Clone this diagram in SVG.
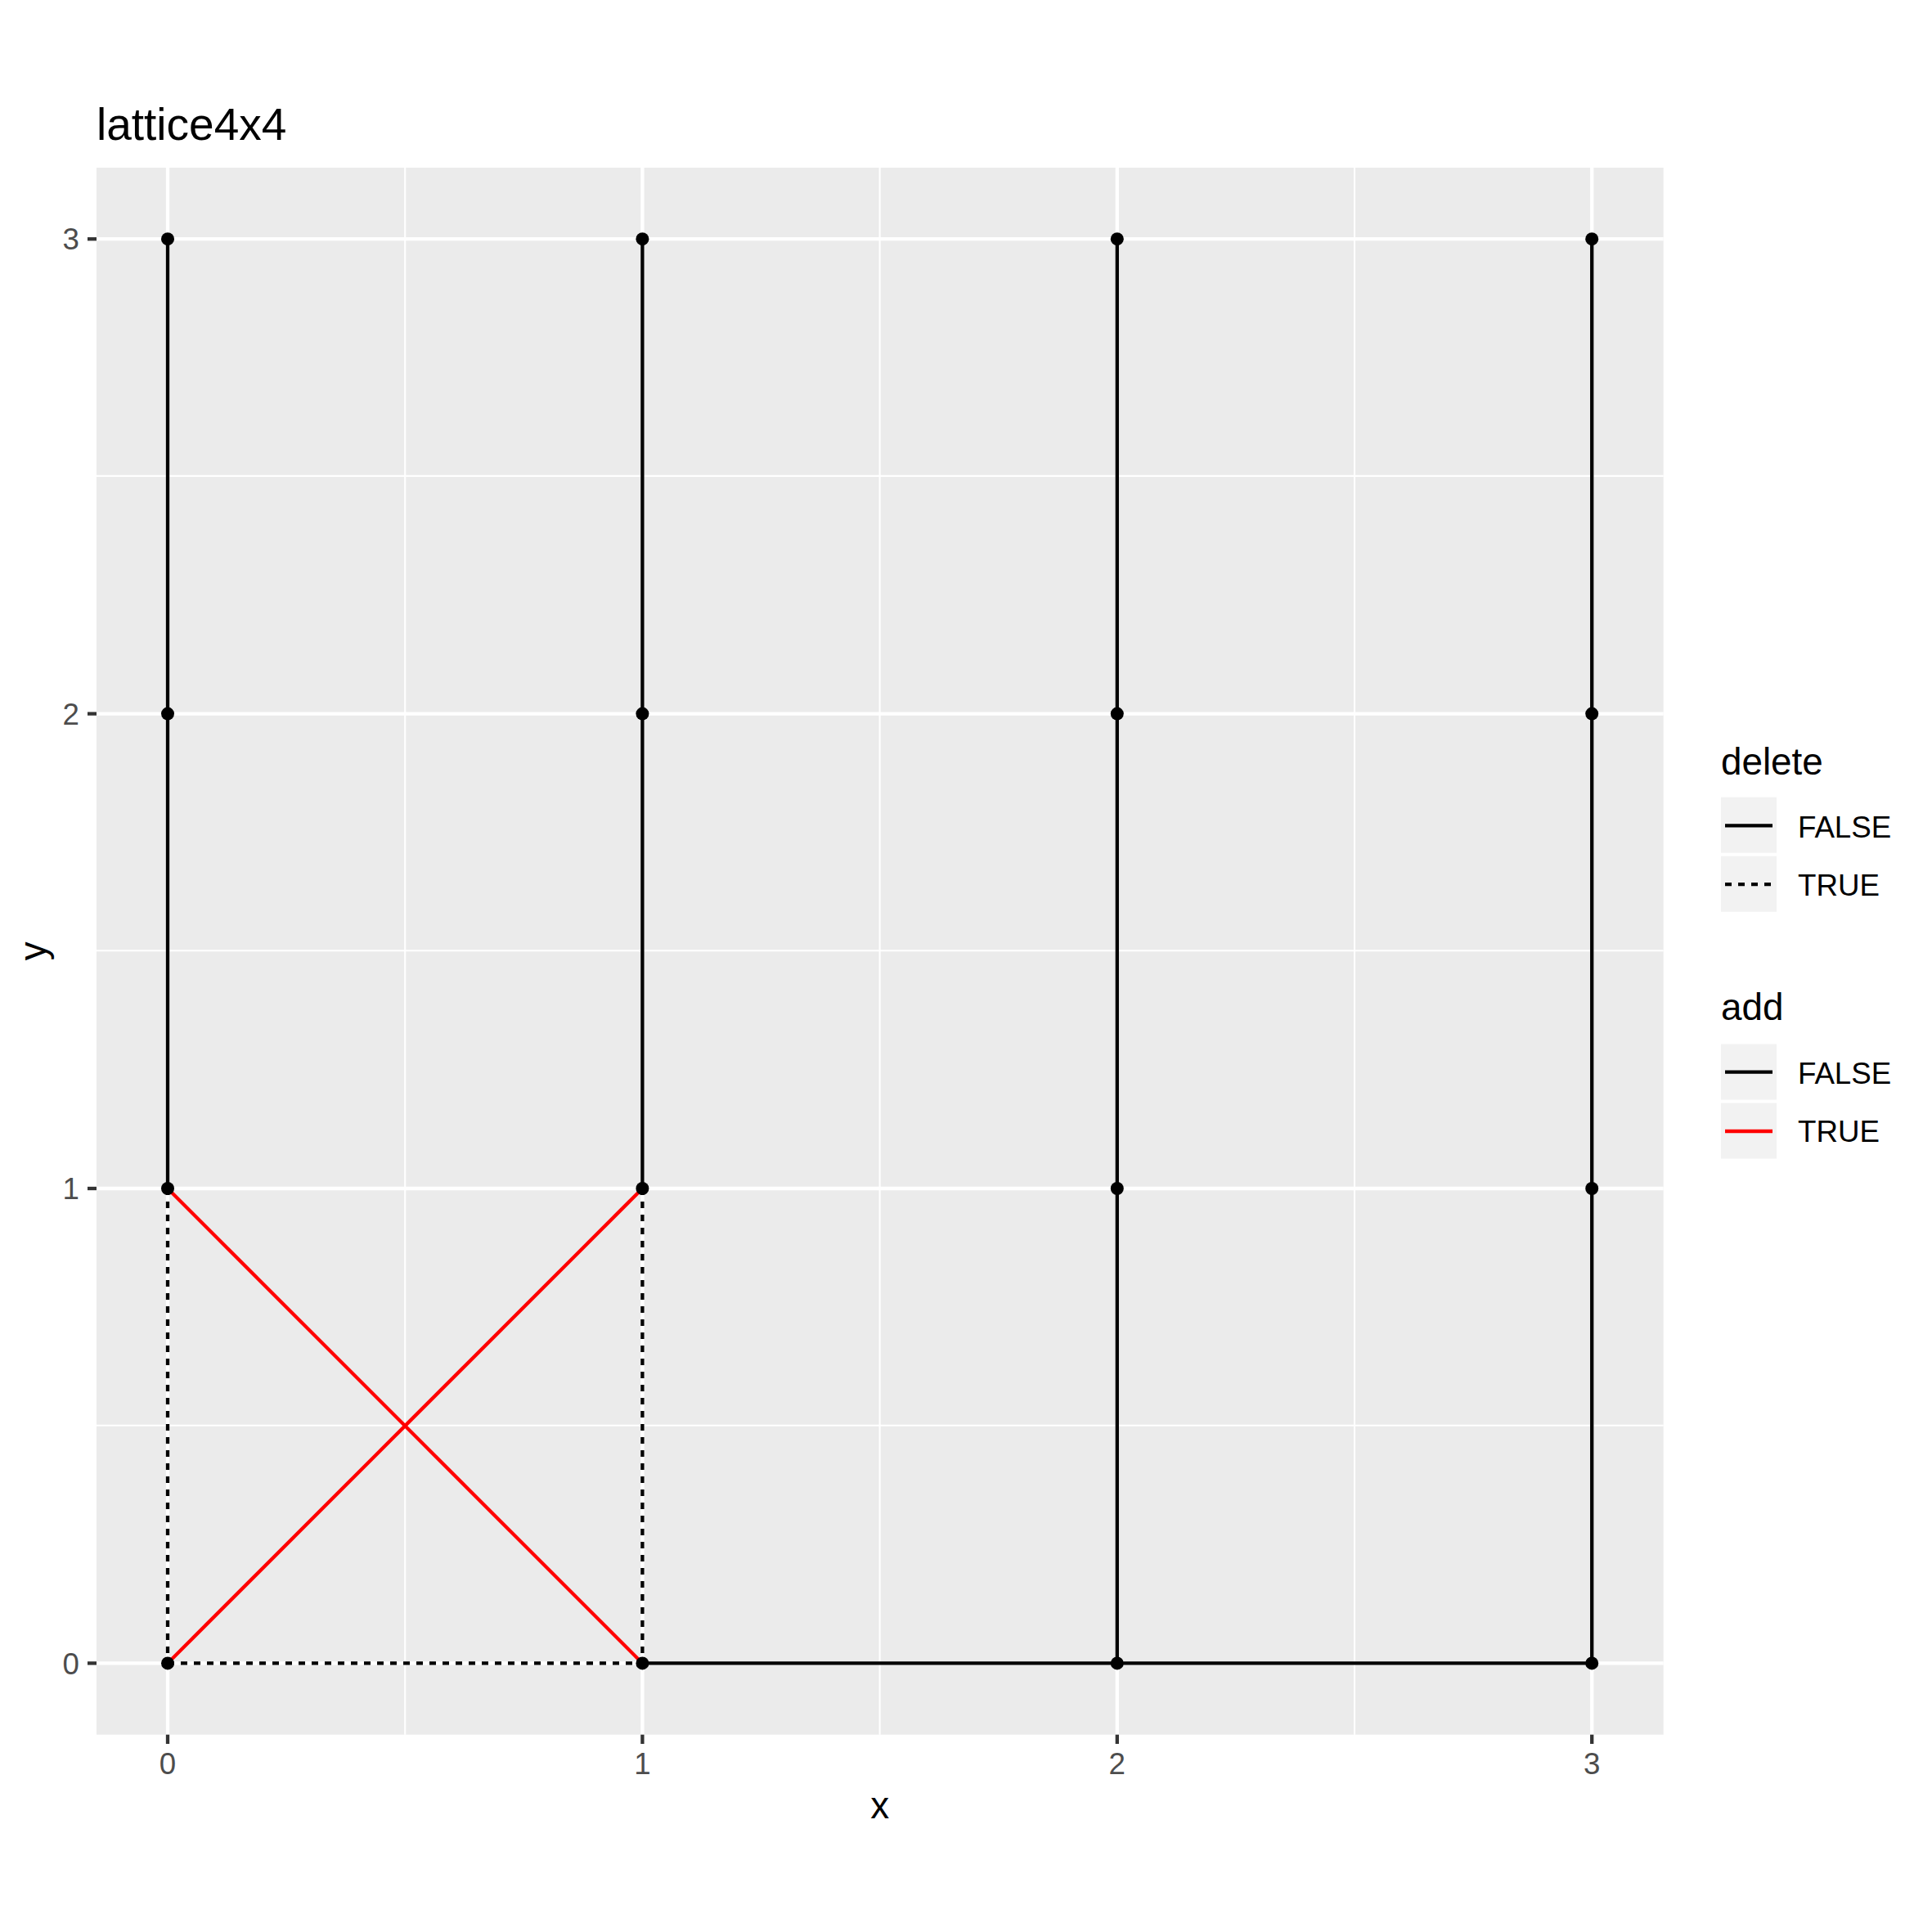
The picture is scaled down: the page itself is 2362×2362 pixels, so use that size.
<svg xmlns="http://www.w3.org/2000/svg" width="2362" height="2362" viewBox="0 0 2362 2362">
<style>
text{font-family:"Liberation Sans",Arial,sans-serif}
.tick{font-size:36.7px;fill:#4D4D4D}
.axt{font-size:45.8px;fill:#000}
.leg{font-size:36.7px;fill:#000}
.major{stroke:#fff;stroke-width:4.3}
.minor{stroke:#fff;stroke-width:2.1}
.tk{stroke:#333;stroke-width:4.3}
.e{stroke:#000;stroke-width:4.3;fill:none}
.d{stroke:#000;stroke-width:4.3;stroke-dasharray:8,8;fill:none}
.r{stroke:#FF0000;stroke-width:4.3;fill:none}
.key{fill:#F2F2F2}
</style>
<rect width="2362" height="2362" fill="#fff"/>
<text x="118" y="171" style="font-size:55px">lattice4x4</text>
<g id="panel">
<rect x="118" y="205" width="1915.7" height="1915.7" fill="#EBEBEB"/>
<line class="minor" x1="118" x2="2033.7" y1="1742.7" y2="1742.7"/>
<line class="minor" x1="118" x2="2033.7" y1="1162.3" y2="1162.3"/>
<line class="minor" x1="118" x2="2033.7" y1="581.9" y2="581.9"/>
<line class="minor" y1="205" y2="2120.7" x1="495.2" x2="495.2"/>
<line class="minor" y1="205" y2="2120.7" x1="1075.6" x2="1075.6"/>
<line class="minor" y1="205" y2="2120.7" x1="1656" x2="1656"/>
<line class="major" x1="118" x2="2033.7" y1="2033.4" y2="2033.4"/>
<line class="major" x1="118" x2="2033.7" y1="1453" y2="1453"/>
<line class="major" x1="118" x2="2033.7" y1="872.6" y2="872.6"/>
<line class="major" x1="118" x2="2033.7" y1="292.2" y2="292.2"/>
<line class="major" y1="205" y2="2120.7" x1="205" x2="205"/>
<line class="major" y1="205" y2="2120.7" x1="785.4" x2="785.4"/>
<line class="major" y1="205" y2="2120.7" x1="1365.8" x2="1365.8"/>
<line class="major" y1="205" y2="2120.7" x1="1946.2" x2="1946.2"/>
</g>
<g id="axes">
<line class="tk" x1="107" x2="118" y1="2033.4" y2="2033.4"/>
<line class="tk" x1="107" x2="118" y1="1453" y2="1453"/>
<line class="tk" x1="107" x2="118" y1="872.6" y2="872.6"/>
<line class="tk" x1="107" x2="118" y1="292.2" y2="292.2"/>
<line class="tk" y1="2120.7" y2="2132" x1="205" x2="205"/>
<line class="tk" y1="2120.7" y2="2132" x1="785.4" x2="785.4"/>
<line class="tk" y1="2120.7" y2="2132" x1="1365.8" x2="1365.8"/>
<line class="tk" y1="2120.7" y2="2132" x1="1946.2" x2="1946.2"/>
<text class="tick" x="97" y="2046.6" text-anchor="end">0</text>
<text class="tick" x="97" y="1466.2" text-anchor="end">1</text>
<text class="tick" x="97" y="885.8" text-anchor="end">2</text>
<text class="tick" x="97" y="305.4" text-anchor="end">3</text>
<text class="tick" x="205" y="2169" text-anchor="middle">0</text>
<text class="tick" x="785.4" y="2169" text-anchor="middle">1</text>
<text class="tick" x="1365.8" y="2169" text-anchor="middle">2</text>
<text class="tick" x="1946.2" y="2169" text-anchor="middle">3</text>
<text class="axt" x="1075.8" y="2222.5" text-anchor="middle">x</text>
<text class="axt" transform="translate(56,1162.8) rotate(-90)" text-anchor="middle">y</text>
</g>
<g id="connectors">
<line class="e" x1="205" y1="292.2" x2="205" y2="1453"/>
<line class="d" x1="205" y1="1453" x2="205" y2="2033.4"/>
<line class="e" x1="785.4" y1="292.2" x2="785.4" y2="1453"/>
<line class="d" x1="785.4" y1="1453" x2="785.4" y2="2033.4"/>
<line class="e" x1="1365.8" y1="292.2" x2="1365.8" y2="2033.4"/>
<line class="e" x1="1946.2" y1="292.2" x2="1946.2" y2="2033.4"/>
<line class="d" x1="205" y1="2033.4" x2="785.4" y2="2033.4"/>
<line class="e" x1="785.4" y1="2033.4" x2="1946.2" y2="2033.4"/>
<line class="r" x1="205" y1="1453" x2="785.4" y2="2033.4"/>
<line class="r" x1="205" y1="2033.4" x2="785.4" y2="1453"/>
</g>
<g id="nodes" fill="#000">
<circle id="n00" cx="205" cy="2033.4" r="8"/>
<circle id="n01" cx="205" cy="1453" r="8"/>
<circle id="n02" cx="205" cy="872.6" r="8"/>
<circle id="n03" cx="205" cy="292.2" r="8"/>
<circle id="n10" cx="785.4" cy="2033.4" r="8"/>
<circle id="n11" cx="785.4" cy="1453" r="8"/>
<circle id="n12" cx="785.4" cy="872.6" r="8"/>
<circle id="n13" cx="785.4" cy="292.2" r="8"/>
<circle id="n20" cx="1365.8" cy="2033.4" r="8"/>
<circle id="n21" cx="1365.8" cy="1453" r="8"/>
<circle id="n22" cx="1365.8" cy="872.6" r="8"/>
<circle id="n23" cx="1365.8" cy="292.2" r="8"/>
<circle id="n30" cx="1946.2" cy="2033.4" r="8"/>
<circle id="n31" cx="1946.2" cy="1453" r="8"/>
<circle id="n32" cx="1946.2" cy="872.6" r="8"/>
<circle id="n33" cx="1946.2" cy="292.2" r="8"/>
</g>
<g id="legend-delete">
<text class="axt" x="2104" y="946.7">delete</text>
<rect class="key" x="2104" y="974.7" width="68" height="68"/>
<rect class="key" x="2104" y="1046.7" width="68" height="68"/>
<line class="e" x1="2109" x2="2167" y1="1009.3" y2="1009.3"/>
<line class="d" x1="2109" x2="2167" y1="1081.2" y2="1081.2"/>
<text class="leg" x="2198" y="1024">FALSE</text>
<text class="leg" x="2198" y="1095">TRUE</text>
</g>
<g id="legend-add">
<text class="axt" x="2104" y="1247">add</text>
<rect class="key" x="2104" y="1276.5" width="68" height="68"/>
<rect class="key" x="2104" y="1348.5" width="68" height="68"/>
<line class="e" x1="2109" x2="2167" y1="1310.7" y2="1310.7"/>
<line class="r" x1="2109" x2="2167" y1="1383" y2="1383"/>
<text class="leg" x="2198" y="1325">FALSE</text>
<text class="leg" x="2198" y="1396">TRUE</text>
</g>
</svg>
